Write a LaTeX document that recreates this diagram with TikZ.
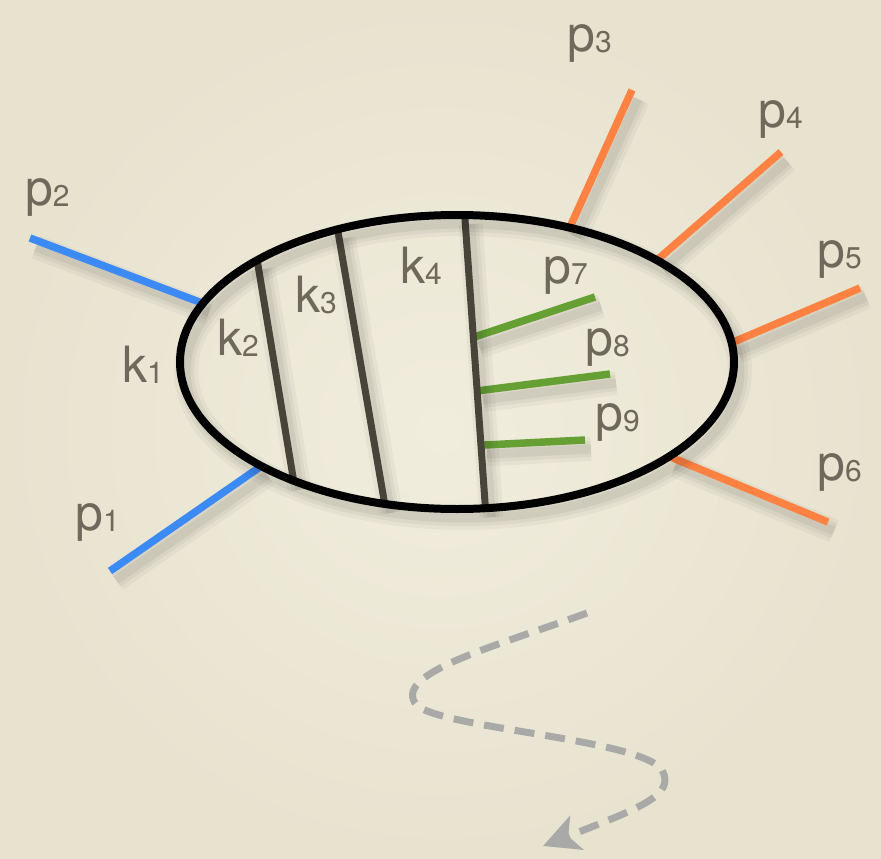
\documentclass[tikz,border=0pt]{standalone}
\usepackage{fontspec}
\setmainfont{TeX Gyre Heros}
\usetikzlibrary{arrows.meta,shapes.geometric,calc}

\definecolor{paperlight}{HTML}{F1EDDD}
\definecolor{paperdark}{HTML}{E8E3CF}
\definecolor{inkgray}{HTML}{6F695B}
\definecolor{legblue}{HTML}{3C8AF5}
\definecolor{legorange}{HTML}{FF8243}
\definecolor{leggreen}{HTML}{66A034}
\definecolor{cutgray}{HTML}{48443A}
\definecolor{trailgray}{HTML}{A9A9A7}

\newcommand{\mom}[2]{#1\raisebox{-1pt}{\fontsize{30}{30}\selectfont #2}}

\tikzset{
  dropshade/.style={
    preaction={draw=black, opacity=0.035, line width=24pt, transform canvas={shift={(6pt,-9pt)}}},
    preaction={draw=black, opacity=0.045, line width=16pt, transform canvas={shift={(6pt,-9pt)}}},
    preaction={draw=black, opacity=0.05, line width=9pt, transform canvas={shift={(6pt,-9pt)}}}},
  leg/.style={dropshade, line width=7.5pt},
  cutline/.style={dropshade, draw=cutgray, line width=7pt},
  tag/.style={anchor=base west, inner sep=0pt, text=inkgray, font=\fontsize{50}{50}\selectfont},
  trail/.style={draw=trailgray, line width=7pt, dash pattern=on 20pt off 11pt}
}

\begin{document}
\begin{tikzpicture}[x=1pt,y=-1pt]
\useasboundingbox (0,0) rectangle (881,859);
\fill[inner color=paperlight, outer color=paperdark] (0,0) rectangle (881,859);

% the blob, outline drawn last
\node[ellipse, minimum width=554pt, minimum height=294pt, inner sep=0pt, outer sep=0pt] (blob) at (457,362) {};

% free ends
\coordinate (e1) at (110,571);
\coordinate (e2) at (30,238);
\coordinate (e3) at (632,90);
\coordinate (e4) at (781,152);
\coordinate (e5) at (860,288);
\coordinate (e6) at (828,522);
\coordinate (g7) at (595,297);
\coordinate (g8) at (610,374);
\coordinate (g9) at (585,440);

% incoming and outgoing legs
\draw[leg, draw=legblue] (blob.208) -- (e1);
\draw[leg, draw=legblue] (blob.167.7) -- (e2);
\draw[leg, draw=legorange] (blob.50.2) -- (e3);
\draw[leg, draw=legorange] (blob.27.1) -- (e4);
\draw[leg, draw=legorange] (blob.4.5) -- (e5);
\draw[leg, draw=legorange] (blob.-24.1) -- (e6);

% cuts
\coordinate (k4a) at (blob.87.6);
\coordinate (k4b) at (blob.281.1);
\draw[leg, draw=leggreen] ($(k4a)!0.417!(k4b)$) -- (g7);
\draw[leg, draw=leggreen] ($(k4a)!0.60!(k4b)$) -- (g8);
\draw[leg, draw=leggreen] ($(k4a)!0.785!(k4b)$) -- (g9);
\draw[cutline] (blob.153.9) -- (blob.216.7);
\draw[cutline] (blob.132.5) -- (blob.243.6);
\draw[cutline] (k4a) -- (k4b);

\draw[dropshade, line width=8pt] (blob.center) ellipse [x radius=277, y radius=147];

% labels
\foreach \nm/\sub/\x/\y in {p/1/75/530, p/2/25/205, p/3/567/52, p/4/758/127, p/5/817/267,
  p/6/817/480, p/7/543/283, p/8/585/355, p/9/595/430,
  k/1/122/382, k/2/217/355, k/3/295/312, k/4/400/283}
  \node[tag] (\nm\sub) at (\x,\y) {\mom{\nm}{\sub}};

% wandering arrow
\coordinate (t0) at (587,613);
\coordinate (t1) at (415,703);
\coordinate (t2) at (662,770);
\coordinate (t3) at (543,846);
\draw[trail, -{Stealth[length=36pt, width=36pt, inset=9pt]}]
  (t0) .. controls (500,645) and (395,672) .. (t1)
  .. controls (430,728) and (640,738) .. (t2)
  .. controls (676,795) and (640,808) .. (t3);
\end{tikzpicture}
\end{document}
